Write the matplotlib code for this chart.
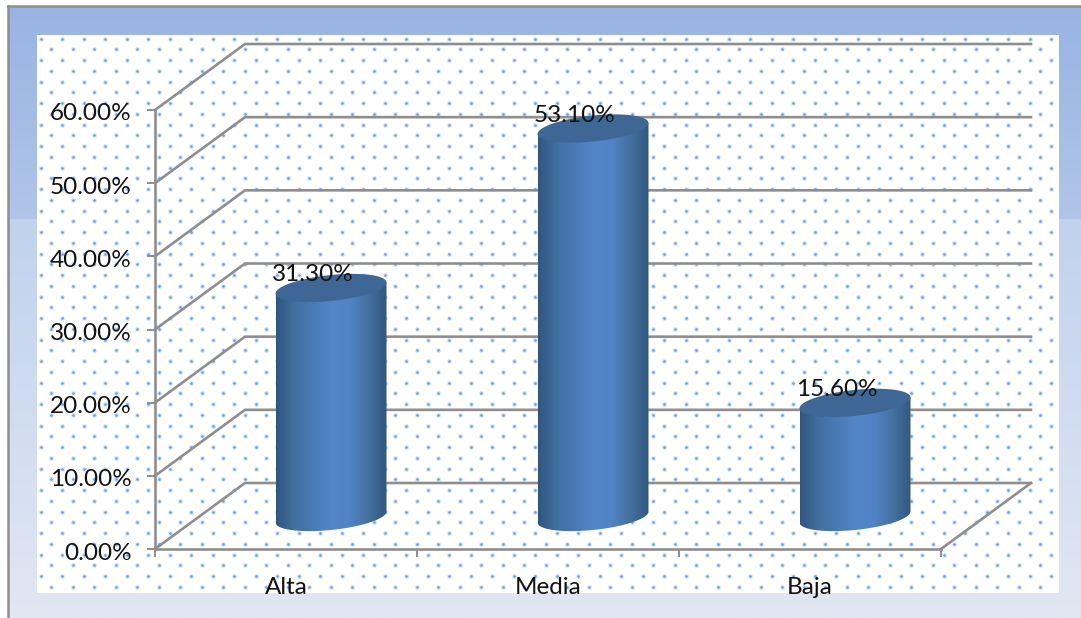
#!/usr/bin/env python3
"""Cylinder chart with fake 3D walls, Alta / Media / Baja."""
import matplotlib
matplotlib.use("Agg")
import matplotlib.pyplot as plt
from matplotlib.patches import PathPatch, Polygon, Rectangle
from matplotlib.path import Path
from matplotlib.colors import LinearSegmentedColormap
from matplotlib.transforms import ScaledTranslation
import numpy as np

categories = ["Alta", "Media", "Baja"]
values = [31.3, 53.1, 15.6]
value_labels = ["31.30%", "53.10%", "15.60%"]
yticks = [0, 10, 20, 30, 40, 50, 60]
ytick_labels = ["0.00%", "10.00%", "20.00%", "30.00%", "40.00%", "50.00%", "60.00%"]

W, H = 1081, 618
GREY = "#8e8e8e"
FONT = "Lato"
FS = 17.5
LW = 1.9


def rect(x0, y0, x1, y1):
    # pixel box (top-left origin) -> figure fraction
    return [x0 / W, 1 - y1 / H, (x1 - x0) / W, (y1 - y0) / H]


fig = plt.figure(figsize=(W / 100, H / 100), dpi=100, facecolor="white")

# ---------- background panel + dotted plot area, in pixels ----------
bg = fig.add_axes([0, 0, 1, 1])
bg.set_xlim(0, W); bg.set_ylim(H, 0); bg.axis("off")
grad = np.linspace(0, 1, 256).reshape(-1, 1)
top_cm = LinearSegmentedColormap.from_list("t", ["#98b4e3", "#b0c5e8"])
low_cm = LinearSegmentedColormap.from_list("l", ["#c0d2ee", "#e1e7f3"])
bg.imshow(grad, cmap=top_cm, extent=(8, W, 219, 6), aspect="auto", zorder=1)
bg.imshow(grad, cmap=low_cm, extent=(8, W, 618, 219), aspect="auto", zorder=1)
bg.set_xlim(0, W); bg.set_ylim(H, 0)
bg.plot([8, 8], [618, 6], color=GREY, lw=1.8, zorder=2, solid_capstyle="projecting")
bg.plot([8, W], [6, 6], color=GREY, lw=1.8, zorder=2, solid_capstyle="projecting")
bg.add_patch(Rectangle((37, 35), 1022, 558, fc="white", ec="none", zorder=3))
dx, dy = 21.5, 10.75
for r, yy in enumerate(np.arange(38.5, 593, dy)):
    xs = np.arange(40.7 if r % 2 == 0 else 51.4, 1058, dx)
    bg.scatter(xs, np.full_like(xs, yy), s=14, color="#c3d7f1", alpha=0.55, linewidths=0, zorder=4)
    bg.scatter(xs, np.full_like(xs, yy), s=3.5, color="#6f9cd8", linewidths=0, zorder=5)

# ---------- chart axes: front plane of the 3D box ----------
X0, X1, Y0, Y60 = 155, 941, 549, 110
ax = fig.add_axes(rect(X0, Y60, X1, Y0))
ax.patch.set_alpha(0)
ax.set_xlim(-0.5, 2.5)
ax.set_ylim(0, 60)
for s in ("top", "right"):
    ax.spines[s].set_visible(False)
for s in ("left", "bottom"):
    ax.spines[s].set_color(GREY); ax.spines[s].set_linewidth(LW)
ax.set_yticks(yticks)
ax.set_yticklabels(ytick_labels, fontsize=FS, family=FONT, color="#111111")
ax.set_xticks(range(3))
ax.set_xticklabels(categories, fontsize=FS, family=FONT, color="#111111")
ax.tick_params(axis="x", which="major", length=0, pad=20.5)
ax.tick_params(axis="y", length=6, width=1.4, color=GREY, pad=11)
ax.set_xticks([-0.5, 0.5, 1.5, 2.5], minor=True)
ax.tick_params(axis="x", which="minor", length=6, width=1.4, color=GREY)
for lbl in ax.get_yticklabels():
    lbl.set_transform(lbl.get_transform() + ScaledTranslation(0, -2 / 100, fig.dpi_scale_trans))

# depth of the box, in data units (90 px across, 66 px up)
depth_x = 90 / ((X1 - X0) / 3)
depth_y = 66 / ((Y0 - Y60) / 60)

for t in yticks:
    ax.plot([-0.5, -0.5 + depth_x, 2.5 + depth_x], [t, t + depth_y, t + depth_y],
            color=GREY, lw=LW, clip_on=False, zorder=2, solid_joinstyle="miter")
ax.plot([2.5, 2.5 + depth_x], [0, depth_y], color=GREY, lw=LW, clip_on=False, zorder=2)

# ---------- cylinders ----------
side_cm = LinearSegmentedColormap.from_list(
    "side", ["#325580", "#41709f", "#4a7ab6", "#5386c8", "#5184c6", "#44719f", "#33577f"])
half_w = 55.5 / ((X1 - X0) / 3)   # half width
off_x = 45 / ((X1 - X0) / 3)      # sits mid-depth
base = (Y0 - 517) / ((Y0 - Y60) / 60)
b = 13 / ((Y0 - Y60) / 60)        # ellipse minor
k = 5.5 / ((Y0 - Y60) / 60)       # tilt of the ellipse
t = np.linspace(0, 2 * np.pi, 121)

for i, (v, lab) in enumerate(zip(values, value_labels)):
    cx = i + off_x
    top = base + v
    ex = cx + half_w * np.cos(t)
    ey = b * np.sin(t) + k * np.cos(t)
    # body outline: top half-front joined to lower half of base ellipse
    low = t[(t > np.pi - 1e-9)]
    body_x = np.r_[cx + half_w * np.cos(low), cx + half_w, cx - half_w]
    body_y = np.r_[base + b * np.sin(low) + k * np.cos(low), top + k, top - k]
    clip = PathPatch(Path(np.column_stack([body_x, body_y])), fc="none", ec="none",
                     transform=ax.transData)
    ax.add_patch(clip)
    im = ax.imshow(np.linspace(0, 1, 200).reshape(1, -1), cmap=side_cm, aspect="auto",
                   extent=(cx - half_w, cx + half_w, base - b - k, top + b + k), zorder=3)
    im.set_clip_path(clip)
    ax.add_patch(Polygon(np.column_stack([ex, top + ey]), closed=True, fc="#3e6796",
                         ec="none", zorder=4, clip_on=False))
    ax.text(cx - 18 / ((X1 - X0) / 3), top + 13 / ((Y0 - Y60) / 60), lab, fontsize=FS, family=FONT,
            color="#111111", ha="center", va="center", zorder=5)

ax.set_xlim(-0.5, 2.5)
ax.set_ylim(0, 60)
fig.savefig("out.png", dpi=100, facecolor=fig.get_facecolor())
